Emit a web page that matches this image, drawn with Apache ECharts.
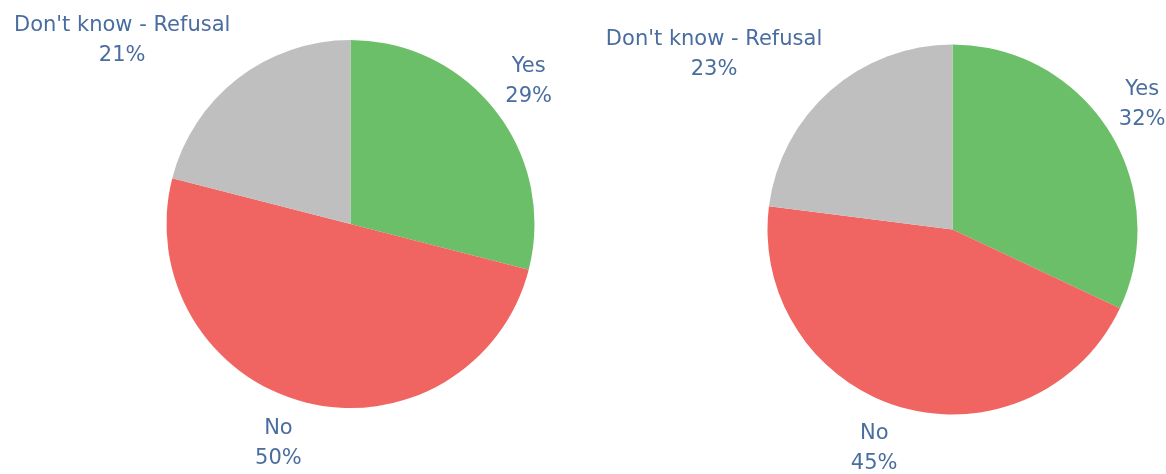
<!DOCTYPE html>
<html>
<head>
<meta charset="utf-8">
<style>
  html, body { margin: 0; padding: 0; background: #ffffff; }
  #chart { width: 1166px; height: 474px; }
</style>
<script src="https://cdn.jsdelivr.net/npm/echarts@6/dist/echarts.min.js"></script>
</head>
<body>
<div id="chart"></div>
<script>
// Answer categories, shared by both pies
const categories = ['Yes', 'No', "Don't know - Refusal"];
// Percentages for each pie
const leftValues = [29, 50, 21];
const rightValues = [32, 45, 23];
// Slice colours in category order
const sliceColors = ['#6bbf68', '#f06561', '#bfbfbf'];

// Pie geometry (pixels)
const pies = [
  { values: leftValues, cx: 350.5, cy: 224, r: 184 },
  { values: rightValues, cx: 952.5, cy: 229.5, r: 185 }
];
const labelGap = 12;

const chart = echarts.init(document.getElementById('chart'), null, { renderer: 'canvas' });

// Anchor each label just outside the rim on its slice's mid-angle ray.
// The box hangs off the anchor by its near side edge horizontally, and
// vertically by a fraction that follows the ray's direction.
function placeLabel(params) {
  const pie = pies[params.seriesIndex];
  const vals = pie.values;
  const total = vals.reduce((a, b) => a + b, 0);
  let before = 0;
  for (let i = 0; i < params.dataIndex; i++) before += vals[i];
  const mid = (before + vals[params.dataIndex] / 2) / total * Math.PI * 2;
  const dx = Math.sin(mid);
  const dy = -Math.cos(mid);
  const w = params.labelRect.width;
  const h = params.labelRect.height;
  const ax = pie.cx + (pie.r + labelGap) * dx;
  const ay = pie.cy + (pie.r + labelGap) * dy;
  const fx = dx >= 0 ? 0 : 1;
  const fy = Math.min(1, Math.max(0, (1 - 1.2 * dy) / 2));
  return {
    x: ax - fx * w + w / 2,
    y: ay - fy * h + h / 2,
    align: 'center',
    verticalAlign: 'middle'
  };
}

function pieSeries(idx) {
  const pie = pies[idx];
  return {
    type: 'pie',
    center: [pie.cx, pie.cy],
    radius: [0, pie.r],
    startAngle: 90,
    clockwise: true,
    silent: true,
    avoidLabelOverlap: false,
    data: categories.map((name, i) => ({
      name: name,
      value: pie.values[i],
      itemStyle: { color: sliceColors[i] }
    })),
    label: {
      show: true,
      position: 'outside',
      formatter: '{b}\n{c}%',
      color: '#4a6d9f',
      fontFamily: 'DejaVu Sans',
      fontSize: 21,
      lineHeight: 30,
      align: 'center',
      overflow: 'none'
    },
    labelLine: { show: false },
    labelLayout: placeLabel,
    emphasis: { disabled: true }
  };
}

chart.setOption({
  animation: false,
  backgroundColor: '#ffffff',
  series: [pieSeries(0), pieSeries(1)]
});
</script>
</body>
</html>
